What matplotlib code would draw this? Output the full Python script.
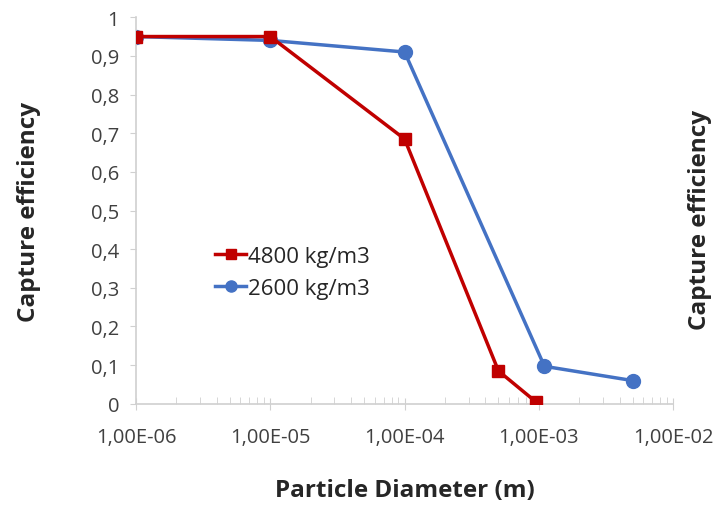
import numpy as np
import matplotlib
matplotlib.use("Agg")
import matplotlib.pyplot as plt
from matplotlib.ticker import FixedLocator, LogLocator, NullFormatter

# valores
d_red = [1e-6, 1e-5, 1e-4, 5e-4, 9.5e-4]
eff_red = [0.95, 0.95, 0.685, 0.085, 0.005]
d_blue = [1e-6, 1e-5, 1e-4, 1.1e-3, 5e-3]
eff_blue = [0.95, 0.94, 0.91, 0.097, 0.06]
xticks = [1e-6, 1e-5, 1e-4, 1e-3, 1e-2]
xlabels = ["1,00E-06", "1,00E-05", "1,00E-04", "1,00E-03", "1,00E-02"]
yticks = np.round(np.arange(0, 1.01, 0.1), 1)
ylabels = ["0" if v == 0 else ("1" if v == 1 else f"{v:.1f}".replace(".", ",")) for v in yticks]

plt.rcParams["font.family"] = ["Open Sans", "DejaVu Sans"]
RED = "#c00000"; BLUE = "#4472c4"; GRID = "#d0d0d0"

fig = plt.figure(figsize=(7.27, 5.06), dpi=100)
ax = fig.add_axes([0.187, 0.2, 0.739, 0.764])
ax.plot(d_blue, eff_blue, color=BLUE, lw=2.5, marker="o", ms=10, label="2600 kg/m3", zorder=2)
ax.plot(d_red, eff_red, color=RED, lw=2.5, marker="s", ms=9, label="4800 kg/m3", zorder=3)
ax.set_xscale("log")
ax.set_xlim(1e-6, 1e-2)
ax.set_ylim(0, 1)
ax.xaxis.set_major_locator(FixedLocator(xticks))
ax.set_xticklabels(xlabels, fontsize=14.5, color="#404040")
ax.xaxis.set_minor_locator(LogLocator(subs=np.arange(2, 10), numticks=20))
ax.xaxis.set_minor_formatter(NullFormatter())
ax.set_yticks(yticks)
ax.set_yticklabels(ylabels, fontsize=14.5, color="#404040")
for s in ["top", "right"]:
    ax.spines[s].set_visible(False)
for s in ["left", "bottom"]:
    ax.spines[s].set_color(GRID); ax.spines[s].set_linewidth(1.2)
ax.tick_params(axis="x", which="major", direction="inout", length=8, color=GRID, pad=13)
ax.tick_params(axis="x", which="minor", direction="in", length=5, color=GRID)
ax.tick_params(axis="y", direction="out", length=4, color=GRID, pad=8)
ax.set_xlabel("Particle Diameter (m)", fontsize=17.5, fontweight="bold", color="#262626", labelpad=22)
ax.set_ylabel("Capture efficiency", fontsize=17.5, fontweight="bold", color="#262626", labelpad=36)
h, l = ax.get_legend_handles_labels()
ax.legend(h[::-1], l[::-1], loc="center left", bbox_to_anchor=(0.11, 0.34), frameon=False,
          fontsize=16, handlelength=1.4, handletextpad=0.1, labelspacing=0.5,
          markerscale=0.8, labelcolor="#262626")
fig.text(0.963, 0.565, "Capture efficiency", rotation=90, fontsize=17.5, fontweight="bold",
         color="#262626", ha="center", va="center")
fig.savefig("out.png", dpi=100)
